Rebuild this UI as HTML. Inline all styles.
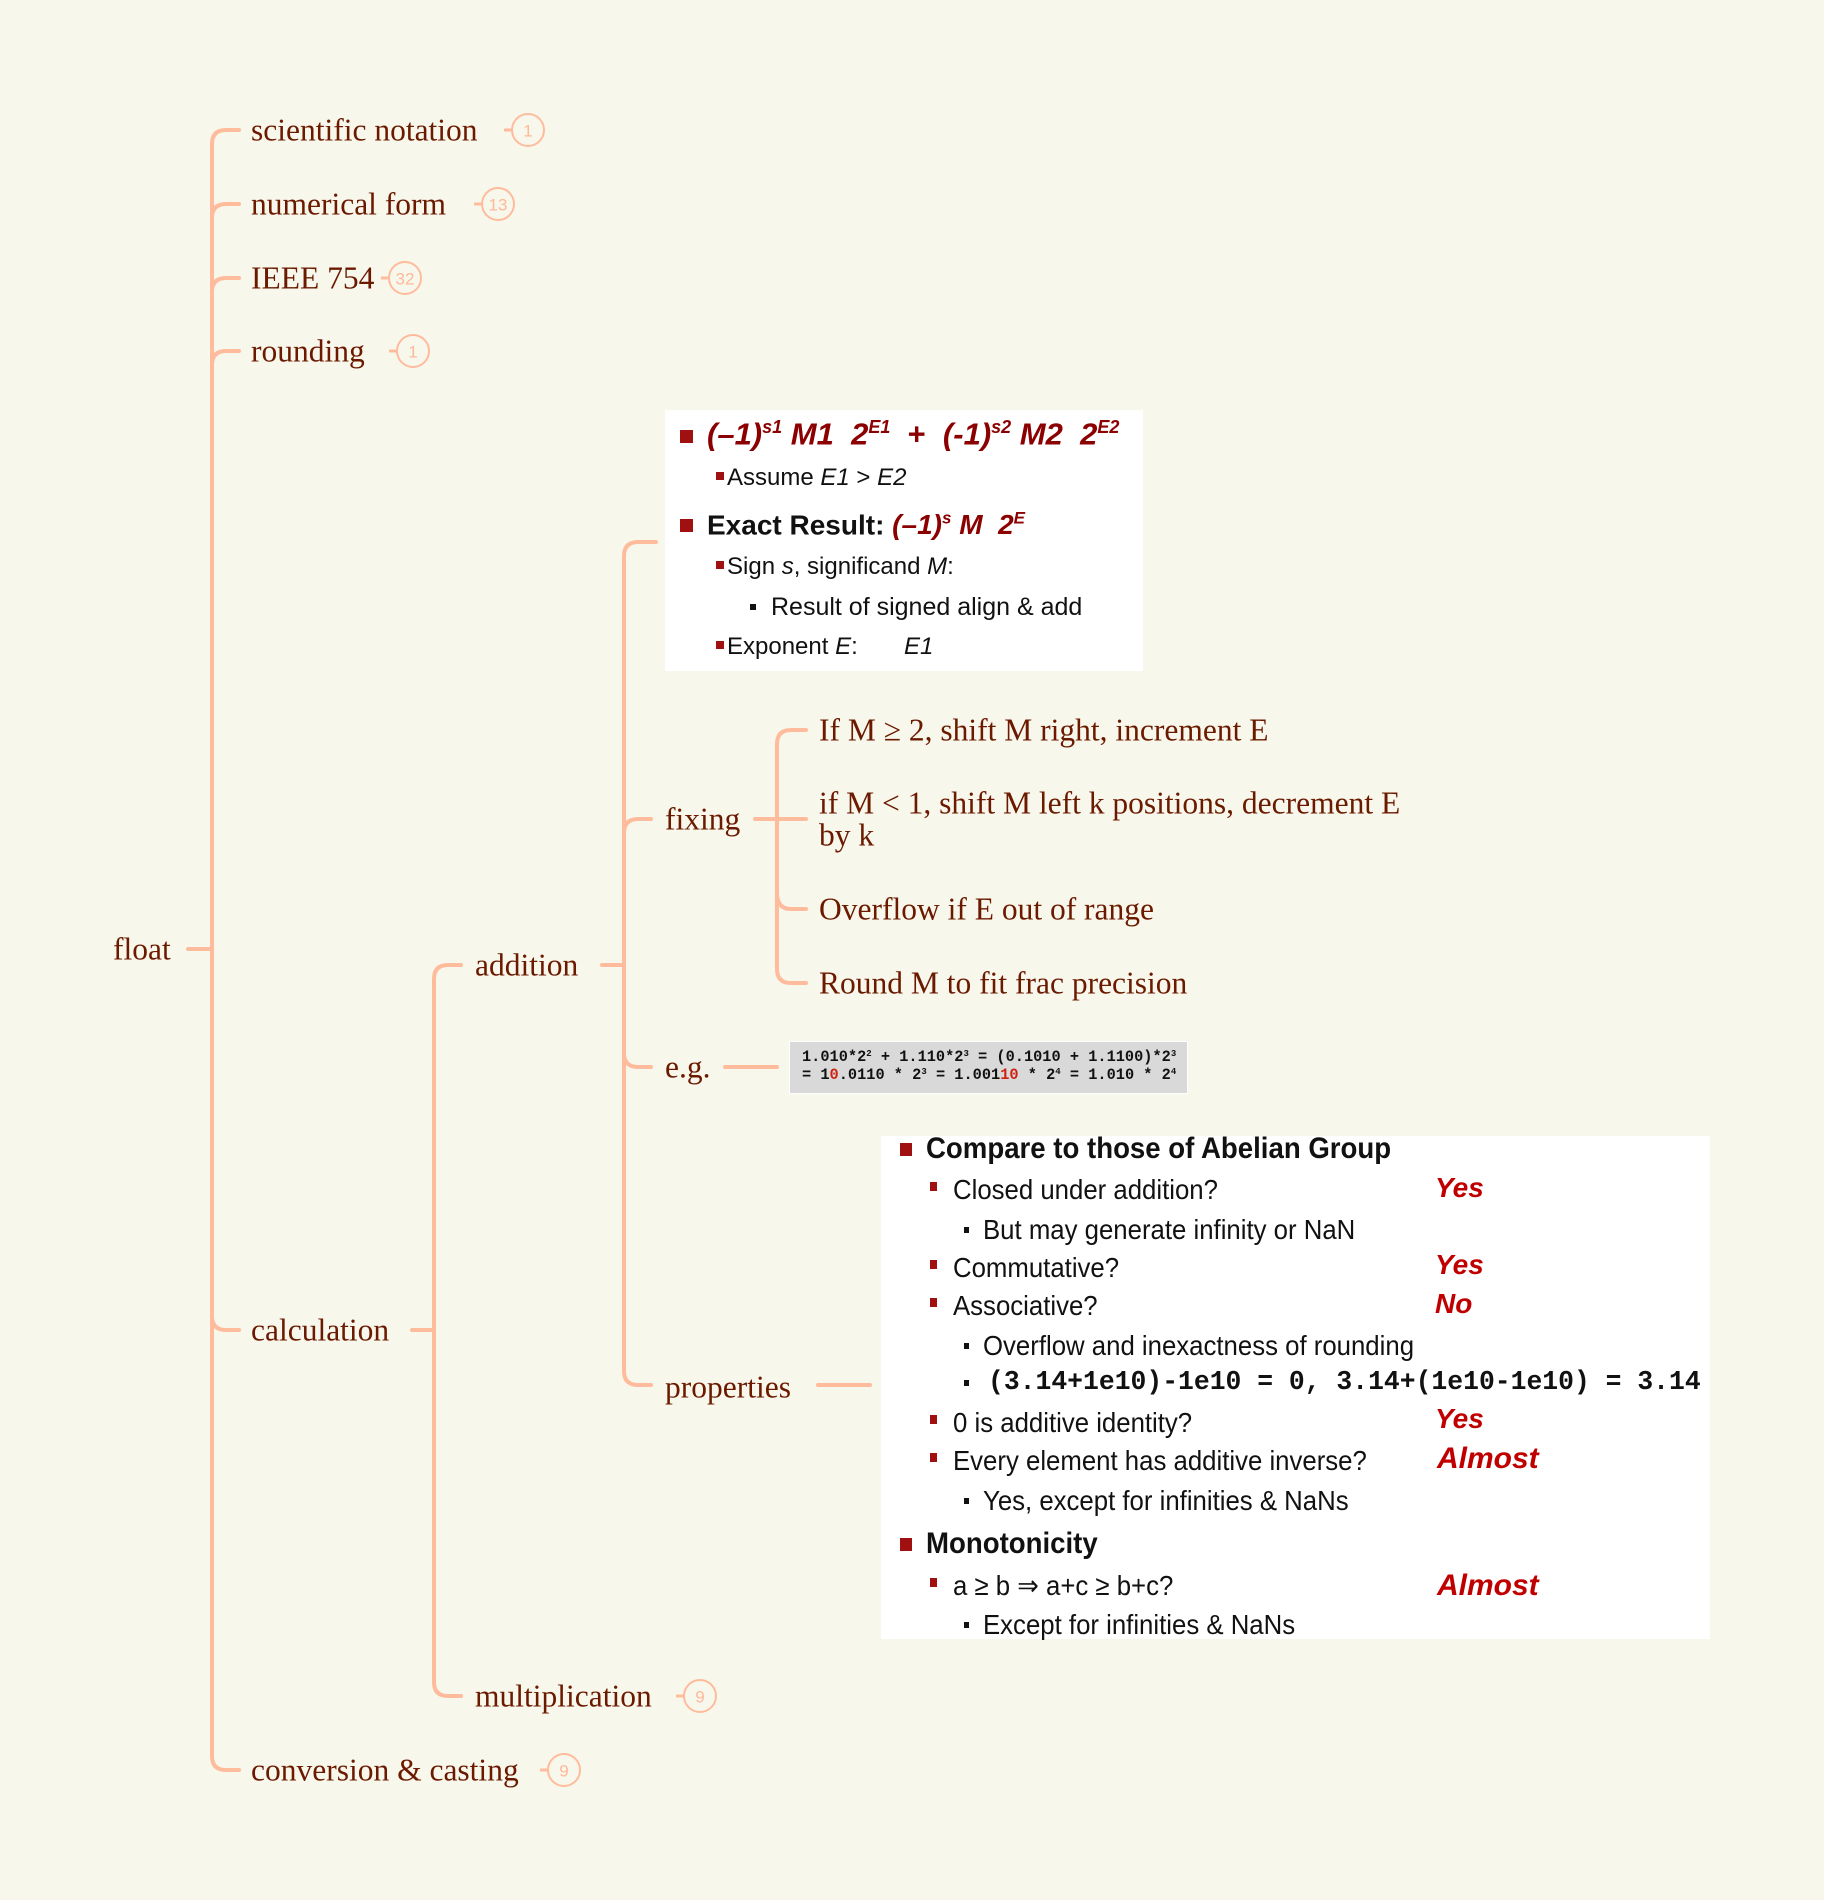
<!DOCTYPE html>
<html><head><meta charset="utf-8"><style>
html,body{margin:0;padding:0;background:#f8f7ec;}
#c{position:relative;width:1824px;height:1900px;overflow:hidden;background:#f8f7ec;}
svg{position:absolute;left:0;top:0;}
.t{font-family:"Liberation Serif",serif;font-size:31.5px;fill:#6b1a00;}
.b{font-family:"Liberation Sans",sans-serif;font-size:17px;fill:#ffb898;}
.ab{position:absolute;white-space:nowrap;font-family:"Liberation Sans",sans-serif;color:#111;line-height:1;}
.sq{position:absolute;background:#a01010;}
.red{color:#c00000;font-weight:bold;font-style:italic;}
.dr{color:#8b0000;font-weight:bold;font-style:italic;}
.cn{transform-origin:0 50%;transform:scaleX(0.92);}
.eg sup{font-size:9px;line-height:0;vertical-align:5px;}
</style></head><body><div id="c">
<svg width="1824" height="1900" viewBox="0 0 1824 1900">
<g fill="none" stroke="#ffbc9c" stroke-width="4" stroke-linecap="round">
<path d="M188 949 H212"/>
<path d="M212 144 V1756"/>
<path d="M212 144 Q212 130 226 130 H239"/>
<path d="M212 218 Q212 204 226 204 H239"/>
<path d="M212 292 Q212 278 226 278 H239"/>
<path d="M212 365 Q212 351 226 351 H239"/>
<path d="M212 1316 Q212 1330 226 1330 H239"/>
<path d="M212 1756 Q212 1770 226 1770 H239"/>
<path d="M412 1330 H434"/>
<path d="M434 979 V1682"/>
<path d="M434 979 Q434 965 448 965 H461"/>
<path d="M434 1682 Q434 1696 448 1696 H461"/>
<path d="M602 965 H624"/>
<path d="M624 556 V1371"/>
<path d="M624 556 Q624 542 638 542 H656"/>
<path d="M624 833 Q624 819 638 819 H651"/>
<path d="M624 1053 Q624 1067 638 1067 H651"/>
<path d="M624 1371 Q624 1385 638 1385 H651"/>
<path d="M755 819 H806"/>
<path d="M777 744 V969"/>
<path d="M777 744 Q777 730 791 730 H806"/>
<path d="M777 893 Q777 909 791 909 H806"/>
<path d="M777 969 Q777 983 791 983 H806"/>
<path d="M725 1067 H777"/>
<path d="M818 1385 H870"/>
</g>
<g fill="none" stroke="#ffbc9c" stroke-width="3">
<path d="M504 130 H512"/><path d="M474 204 H482"/><path d="M381 278 H389"/><path d="M389 351 H397"/>
<path d="M676 1696 H684"/><path d="M540 1770 H548"/>
</g>
<g fill="none" stroke="#ffbc9c" stroke-width="2">
<circle cx="528" cy="130" r="16"/><circle cx="498" cy="204" r="16"/><circle cx="405" cy="278" r="16"/><circle cx="413" cy="351" r="16"/>
<circle cx="700" cy="1696" r="16"/><circle cx="564" cy="1770" r="16"/>
</g>
<g class="b" text-anchor="middle" dominant-baseline="central">
<text x="528" y="131">1</text><text x="498" y="205">13</text><text x="405" y="279">32</text><text x="413" y="352">1</text>
<text x="700" y="1697">9</text><text x="564" y="1771">9</text>
</g>
<g class="t" dominant-baseline="central">
<text x="113" y="949">float</text>
<text x="251" y="130">scientific notation</text>
<text x="251" y="204">numerical form</text>
<text x="251" y="278">IEEE 754</text>
<text x="251" y="351">rounding</text>
<text x="251" y="1330">calculation</text>
<text x="251" y="1770">conversion &amp; casting</text>
<text x="475" y="965">addition</text>
<text x="475" y="1696">multiplication</text>
<text x="665" y="819">fixing</text>
<text x="665" y="1067">e.g.</text>
<text x="665" y="1387">properties</text>
<text x="819" y="730">If M ≥ 2, shift M right, increment E</text>
<text x="819" y="803">if M &lt; 1, shift M left k positions, decrement E</text>
<text x="819" y="835">by k</text>
<text x="819" y="909">Overflow if E out of range</text>
<text x="819" y="983">Round M to fit frac precision</text>
</g>
</svg>

<div style="position:absolute;left:665px;top:410px;width:478px;height:261px;background:#fff;"></div>
<div class="sq" style="left:680px;top:430px;width:13px;height:13px;"></div>
<div class="ab dr" style="left:707px;top:418px;font-size:31px;">(–1)<sup style="font-size:18px">s1</sup> M1&nbsp; 2<sup style="font-size:18px">E1</sup>&nbsp; <span style="font-style:normal">+</span>&nbsp; (-1)<sup style="font-size:18px">s2</sup> M2&nbsp; 2<sup style="font-size:18px">E2</sup></div>
<div class="sq" style="left:716px;top:472px;width:8px;height:8px;"></div>
<div class="ab" style="left:727px;top:466px;font-size:24px;">Assume <i>E1</i> &gt; <i>E2</i></div>
<div class="sq" style="left:680px;top:519px;width:13px;height:13px;"></div>
<div class="ab" style="left:707px;top:510px;font-size:28px;font-weight:bold;">Exact Result: <span class="dr">(–1)<sup style="font-size:17px">s</sup> M&nbsp; 2<sup style="font-size:17px">E</sup></span></div>
<div class="sq" style="left:716px;top:561px;width:8px;height:8px;"></div>
<div class="ab" style="left:727px;top:555px;font-size:24px;">Sign <i>s</i>, significand <i>M</i>:</div>
<div class="sq" style="left:750px;top:604px;width:6px;height:6px;background:#111;"></div>
<div class="ab" style="left:771px;top:595px;font-size:25px;">Result of signed align &amp; add</div>
<div class="sq" style="left:716px;top:641px;width:8px;height:8px;"></div>
<div class="ab" style="left:727px;top:635px;font-size:24px;">Exponent <i>E</i>:</div>
<div class="ab" style="left:904px;top:635px;font-size:24px;font-style:italic;">E1</div>

<div style="position:absolute;left:789px;top:1041px;width:397px;height:51px;background:#d9d9d9;border:1px solid #fff;"></div>
<div class="ab eg" style="left:802px;top:1048px;font-family:'Liberation Mono',monospace;font-size:15.3px;line-height:18px;color:#111;font-weight:bold;">1.010*2<sup>2</sup> + 1.110*2<sup>3</sup> = (0.1010 + 1.1100)*2<sup>3</sup><br>= 1<span style="color:#d02010">0</span>.0110 * 2<sup>3</sup> = 1.001<span style="color:#d02010">10</span> * 2<sup>4</sup> = 1.010 * 2<sup>4</sup></div>

<div style="position:absolute;left:881px;top:1136px;width:829px;height:503px;background:#fff;"></div>
<div class="sq" style="left:900px;top:1143px;width:12px;height:13px;"></div>
<div class="ab cn" style="left:926px;top:1134px;font-size:30px;font-weight:bold;">Compare to those of Abelian Group</div>
<div class="sq" style="left:930px;top:1182px;width:7px;height:9px;"></div>
<div class="ab cn" style="left:953px;top:1176px;font-size:28px;">Closed under addition?</div>
<div class="ab red" style="left:1435px;top:1174px;font-size:28px;">Yes</div>
<div class="sq" style="left:964px;top:1227px;width:5px;height:6px;background:#111;"></div>
<div class="ab cn" style="left:983px;top:1216px;font-size:28px;">But may generate infinity or NaN</div>
<div class="sq" style="left:930px;top:1260px;width:7px;height:9px;"></div>
<div class="ab cn" style="left:953px;top:1254px;font-size:28px;">Commutative?</div>
<div class="ab red" style="left:1435px;top:1251px;font-size:28px;">Yes</div>
<div class="sq" style="left:930px;top:1298px;width:7px;height:9px;"></div>
<div class="ab cn" style="left:953px;top:1292px;font-size:28px;">Associative?</div>
<div class="ab red" style="left:1435px;top:1290px;font-size:28px;">No</div>
<div class="sq" style="left:964px;top:1343px;width:5px;height:6px;background:#111;"></div>
<div class="ab cn" style="left:983px;top:1332px;font-size:28px;">Overflow and inexactness of rounding</div>
<div class="sq" style="left:964px;top:1380px;width:5px;height:6px;background:#111;"></div>
<div class="ab" style="left:988px;top:1369px;font-size:26.4px;font-family:'Liberation Mono',monospace;font-weight:bold;">(3.14+1e10)-1e10 = 0, 3.14+(1e10-1e10) = 3.14</div>
<div class="sq" style="left:930px;top:1415px;width:7px;height:9px;"></div>
<div class="ab cn" style="left:953px;top:1409px;font-size:28px;">0 is additive identity?</div>
<div class="ab red" style="left:1435px;top:1405px;font-size:28px;">Yes</div>
<div class="sq" style="left:930px;top:1453px;width:7px;height:9px;"></div>
<div class="ab cn" style="left:953px;top:1447px;font-size:28px;">Every element has additive inverse?</div>
<div class="ab red" style="left:1437px;top:1444px;font-size:30px;">Almost</div>
<div class="sq" style="left:964px;top:1498px;width:5px;height:6px;background:#111;"></div>
<div class="ab cn" style="left:983px;top:1487px;font-size:28px;">Yes, except for infinities &amp; NaNs</div>
<div class="sq" style="left:900px;top:1538px;width:12px;height:13px;"></div>
<div class="ab cn" style="left:926px;top:1529px;font-size:30px;font-weight:bold;">Monotonicity</div>
<div class="sq" style="left:930px;top:1578px;width:7px;height:9px;"></div>
<div class="ab cn" style="left:953px;top:1572px;font-size:28px;">a ≥ b ⇒ a+c ≥ b+c?</div>
<div class="ab red" style="left:1437px;top:1571px;font-size:30px;">Almost</div>
<div class="sq" style="left:964px;top:1622px;width:5px;height:6px;background:#111;"></div>
<div class="ab cn" style="left:983px;top:1611px;font-size:28px;">Except for infinities &amp; NaNs</div>
</div></body></html>
